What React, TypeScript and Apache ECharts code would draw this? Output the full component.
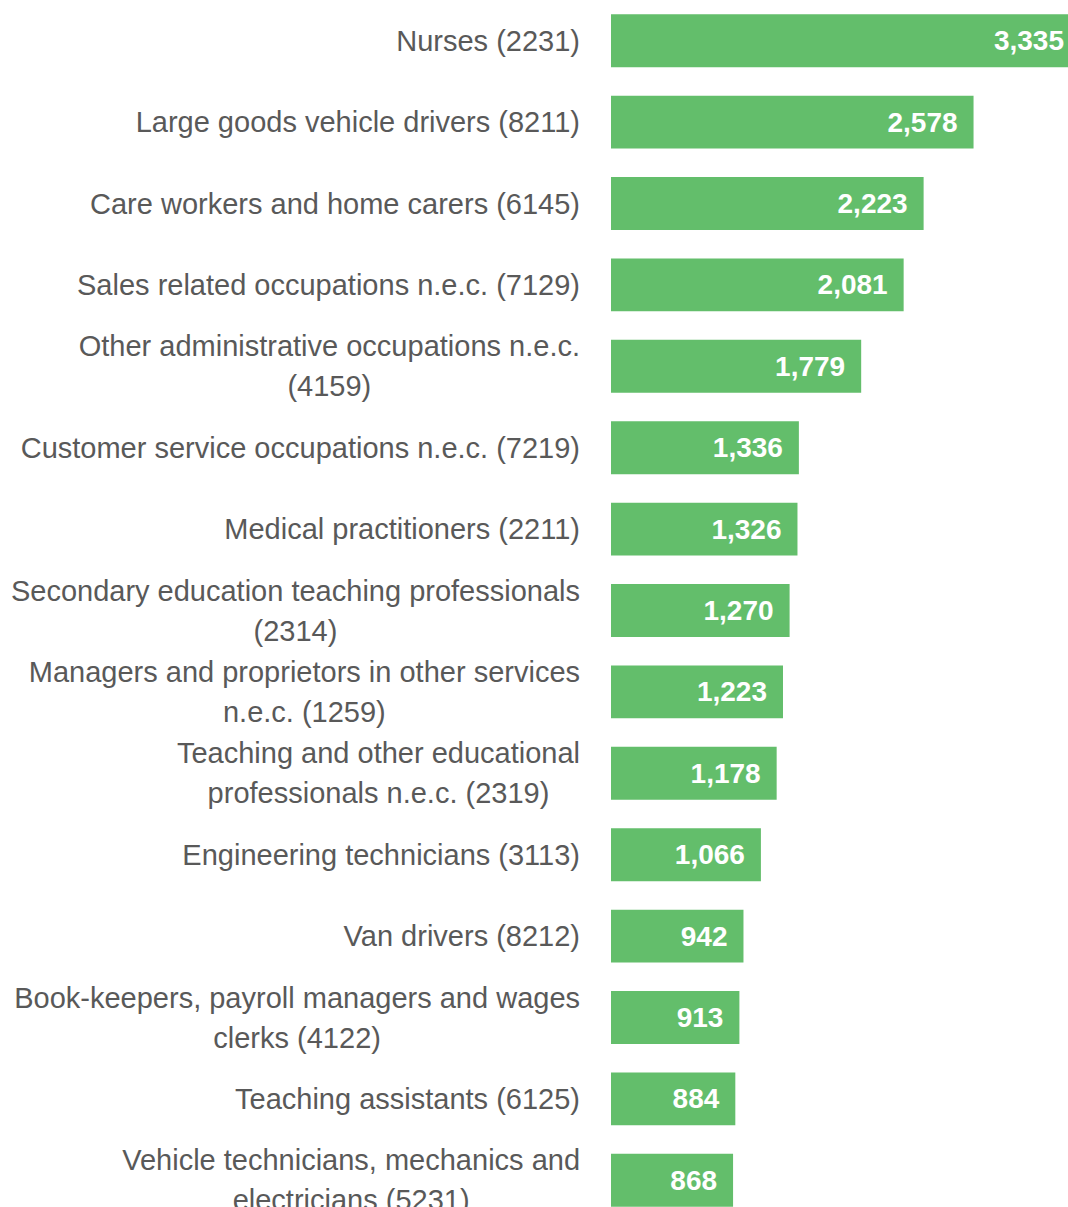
import React, { useEffect, useRef } from "react";
import * as echarts from "echarts";

const categories: string[] = [
  "Nurses (2231)",
  "Large goods vehicle drivers (8211)",
  "Care workers and home carers (6145)",
  "Sales related occupations n.e.c. (7129)",
  "Other administrative occupations n.e.c.\n(4159)",
  "Customer service occupations n.e.c. (7219)",
  "Medical practitioners (2211)",
  "Secondary education teaching professionals\n(2314)",
  "Managers and proprietors in other services\nn.e.c. (1259)",
  "Teaching and other educational\nprofessionals n.e.c. (2319)",
  "Engineering technicians (3113)",
  "Van drivers (8212)",
  "Book-keepers, payroll managers and wages\nclerks (4122)",
  "Teaching assistants (6125)",
  "Vehicle technicians, mechanics and\nelectricians (5231)",
];

const values: number[] = [3335, 2578, 2223, 2081, 1779, 1336, 1326, 1270, 1223, 1178, 1066, 942, 913, 884, 868];

const FONT = "'Liberation Sans', Arial, sans-serif";

export default function App() {
  const ref = useRef<HTMLDivElement>(null);
  useEffect(() => {
    if (!ref.current) return;
    const chart = echarts.init(ref.current, null, { renderer: "svg" });
    chart.setOption({
      animation: false,
      backgroundColor: "#ffffff",
      grid: { left: 611, right: 0, top: 0, bottom: 0, containLabel: false },
      xAxis: {
        type: "value",
        min: 0,
        max: 3335,
        show: false,
      },
      yAxis: {
        type: "category",
        inverse: true,
        data: categories,
        axisLine: { show: false },
        axisTick: { show: false },
        splitLine: { show: false },
        axisLabel: {
          margin: 31,
          fontFamily: FONT,
          fontSize: 29,
          color: "#595959",
          lineHeight: 40,
          formatter: (v: string) =>
            v
              .split("\n")
              .map((l) => `{a|${l}}`)
              .join("\n"),
          rich: {
            a: {
              align: "center",
              fontFamily: FONT,
              fontSize: 29,
              color: "#595959",
              lineHeight: 40,
            },
          },
        },
      },
      series: [
        {
          type: "bar",
          data: values,
          barCategoryGap: "35%",
          itemStyle: { color: "#63BE6B" },
          label: {
            show: true,
            position: "insideRight",
            distance: 16,
            color: "#ffffff",
            fontFamily: FONT,
            fontWeight: "bold",
            fontSize: 28,
            formatter: (p: any) => Number(p.value).toLocaleString("en-US"),
          },
        },
      ],
    });
    return () => chart.dispose();
  }, []);
  return (
    <div
      style={{ position: "fixed", left: 0, top: 0, width: 1068, height: 1207, overflow: "hidden", background: "#fff" }}
    >
      <div ref={ref} style={{ position: "absolute", left: 0, top: 0, width: 1080, height: 1221 }} />
    </div>
  );
}
